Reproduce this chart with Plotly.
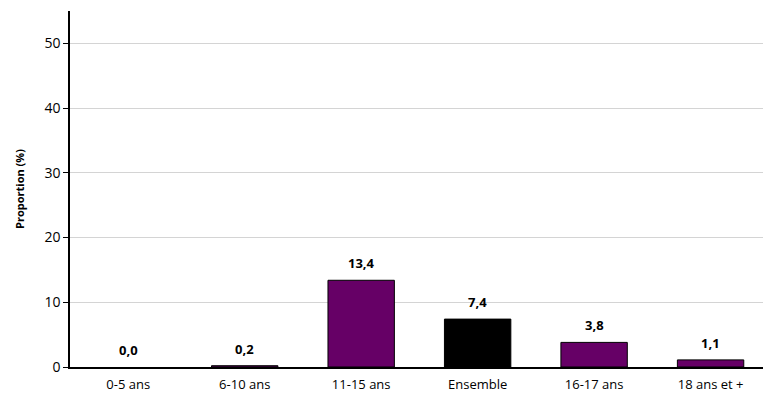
import plotly.graph_objects as go

categories = ["0-5 ans", "6-10 ans", "11-15 ans", "Ensemble", "16-17 ans", "18 ans et +"]
values = [0.0, 0.2, 13.4, 7.4, 3.8, 1.1]
colors = ["#660066", "#660066", "#660066", "#000000", "#660066", "#660066"]
y_ticks = [0, 10, 20, 30, 40, 50]

labels = [f"{v:.1f}".replace(".", ",") for v in values]
outline_widths = [0 if v == 0 else 1 for v in values]

fig = go.Figure()
fig.add_trace(go.Bar(
    x=categories, y=values,
    marker=dict(color=colors, line=dict(color="#000000", width=outline_widths)),
    width=0.57,
    hoverinfo="skip",
))

for c, v, t in zip(categories, values, labels):
    fig.add_annotation(x=c, y=v, text=f"<b>{t}</b>", showarrow=False,
                       yshift=17, font=dict(size=13, color="#000000", family="Open Sans"))

fig.update_layout(
    width=763, height=398,
    margin=dict(l=70, r=0, t=11, b=31),
    paper_bgcolor="white", plot_bgcolor="white",
    showlegend=False,
    font=dict(family="Open Sans", color="#000000"),
    xaxis=dict(
        range=[-0.5, 5.45],
        showline=True, linecolor="#000000", linewidth=1.5,
        ticks="", tickfont=dict(size=13),
        ticklabelstandoff=5,
        showgrid=False,
    ),
    yaxis=dict(
        range=[0, 55],
        tickvals=y_ticks,
        showline=True, linecolor="#000000", linewidth=1.5,
        ticks="outside", ticklen=5, tickcolor="#000000",
        tickfont=dict(size=14),
        showgrid=True, gridcolor="#d4d4d4", gridwidth=1,
        zeroline=False,
        title=dict(text="<b>Proportion (%)</b>", font=dict(size=11), standoff=18),
    ),
)

fig.write_html("out.html", config={"displayModeBar": False},
               post_script="document.body.style.margin='0';")
